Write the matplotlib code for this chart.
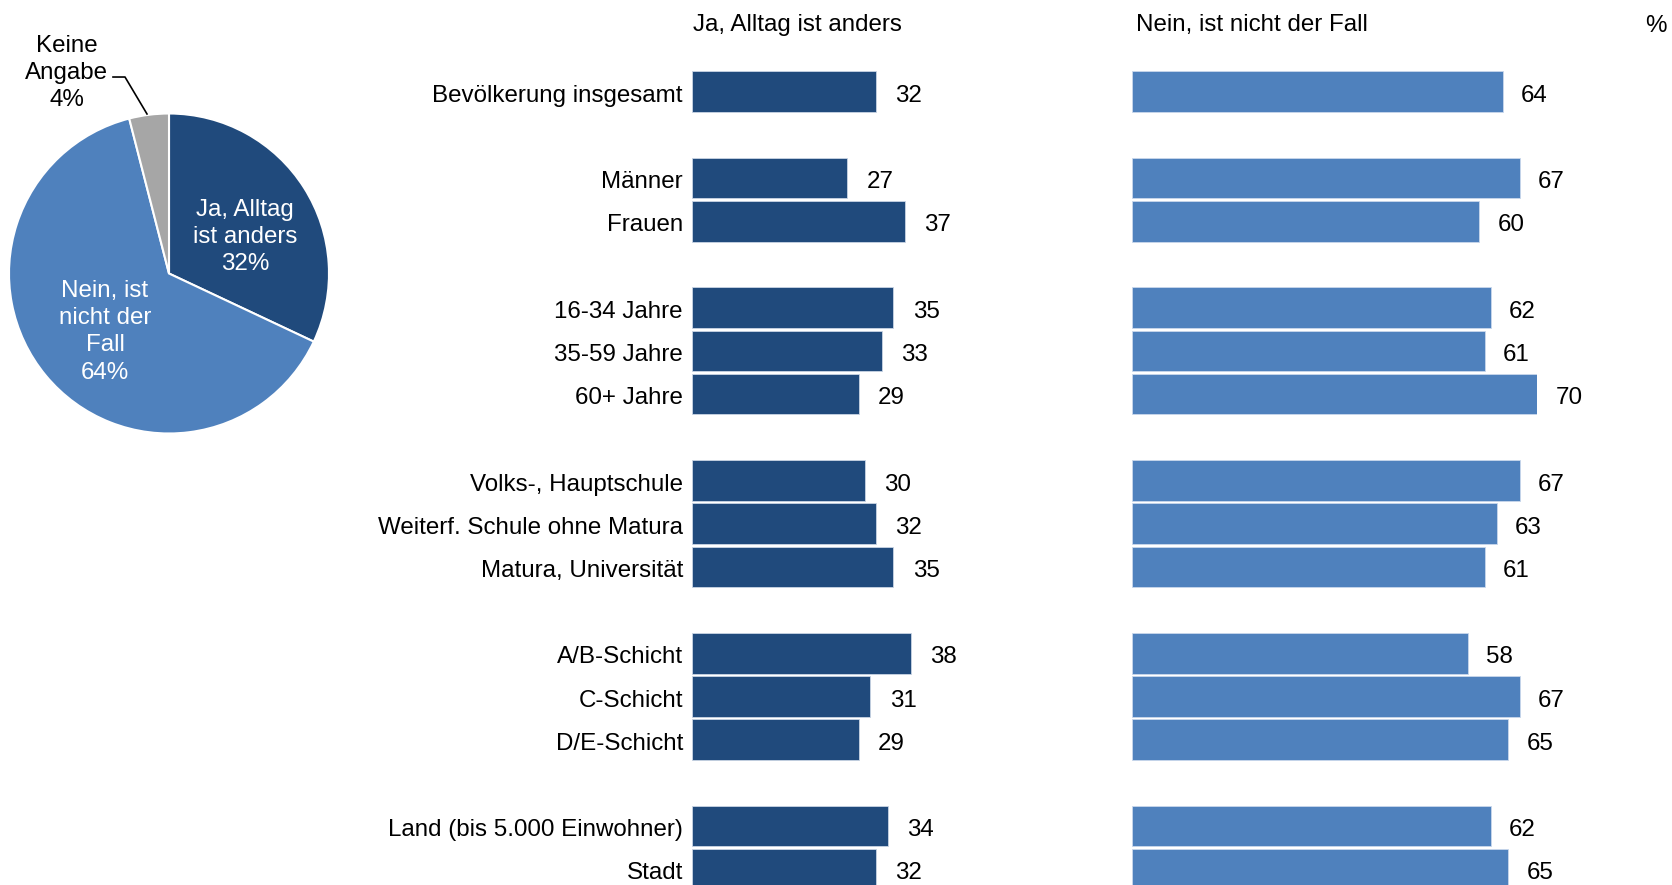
import matplotlib
matplotlib.use("Agg")
import matplotlib.pyplot as plt
import numpy as np

plt.rcParams['font.family'] = ['Liberation Sans', 'DejaVu Sans']

# Gesamtergebnis fuer das Kreisdiagramm
pie_labels = ["Ja, Alltag\nist anders", "Nein, ist\nnicht der\nFall", "Keine\nAngabe"]
pie_values = [32, 64, 4]

# Untergruppen, Blockgroessen fuer die Leerzeilen dazwischen
categories = ["Bevölkerung insgesamt",
              "Männer", "Frauen",
              "16-34 Jahre", "35-59 Jahre", "60+ Jahre",
              "Volks-, Hauptschule", "Weiterf. Schule ohne Matura", "Matura, Universität",
              "A/B-Schicht", "C-Schicht", "D/E-Schicht",
              "Land (bis 5.000 Einwohner)", "Stadt"]
group_sizes = [1, 2, 3, 3, 3, 2]
ja = [32, 27, 37, 35, 33, 29, 30, 32, 35, 38, 31, 29, 34, 32]
nein = [64, 67, 60, 62, 61, 70, 67, 63, 61, 58, 67, 65, 62, 65]

DARK = "#204A7C"
LIGHT = "#4F81BD"
GREY = "#A6A6A6"
FS = 17.4

W, H = 1672, 885
fig = plt.figure(figsize=(W / 100, H / 100), dpi=100)

# Zeilenpositionen mit einer Leerzeile zwischen den Bloecken
rows = []
r = 0
for g in group_sizes:
    rows.extend(range(r, r + g))
    r += g + 1
rows = np.array(rows)

row0, pitch = 91.7, 43.2
ylim = ((H - row0) / pitch, -row0 / pitch)


def bar_axes(x0, px_per_unit):
    ax = fig.add_axes([x0 / W, 0, 70 * px_per_unit / W, 1])
    ax.set_xlim(0, 70)
    ax.set_ylim(*ylim)
    ax.axis("off")
    return ax


ax1 = bar_axes(692, 5.75)
ax2 = bar_axes(1132, 5.79)

ax1.barh(rows, ja, height=0.94, color=DARK, edgecolor="#c9d4e4", linewidth=0.6)
ax2.barh(rows, nein, height=0.94, color=LIGHT, edgecolor="#c9d8ec", linewidth=0.6)

for y, lab, a, b in zip(rows, categories, ja, nein):
    ax1.annotate(lab, (0, y), xytext=(-6.5, -3), textcoords="offset points",
                 ha="right", va="center", fontsize=FS)
    ax1.annotate(str(a), (a, y), xytext=(14, -3), textcoords="offset points",
                 ha="left", va="center", fontsize=FS)
    ax2.annotate(str(b), (b, y), xytext=(13, -3), textcoords="offset points",
                 ha="left", va="center", fontsize=FS)

fig.text(693 / W, 1 - 25.5 / H, "Ja, Alltag ist anders", ha="left", va="center", fontsize=FS)
fig.text(1136 / W, 1 - 25.5 / H, "Nein, ist nicht der Fall", ha="left", va="center", fontsize=FS)
fig.text(1667 / W, 1 - 25.5 / H, "%", ha="right", va="center", fontsize=FS)

# Kreisdiagramm links oben
cx, cy, rad = 169, 273.5, 160
axp = fig.add_axes([(cx - rad) / W, 1 - (cy + rad) / H, 2 * rad / W, 2 * rad / H])
axp.pie(pie_values, colors=[DARK, LIGHT, GREY], startangle=90, counterclock=False,
        radius=1, wedgeprops=dict(edgecolor="white", linewidth=1.5))
axp.set_xlim(-1, 1)
axp.set_ylim(-1, 1)
axp.set_aspect("auto")
axp.axis("off")

axp.text(0.475, 0.23, f"{pie_labels[0]}\n{pie_values[0]}%", ha="center", va="center",
         color="white", fontsize=FS, linespacing=1.3)
axp.text(-0.40, -0.365, f"{pie_labels[1]}\n{pie_values[1]}%", ha="center", va="center",
         color="white", fontsize=FS, linespacing=1.3)
axp.text(-0.64, 1.255, f"{pie_labels[2]}\n{pie_values[2]}%", ha="center", va="center",
         color="black", fontsize=FS, linespacing=1.3)
axp.plot([-0.35, -0.275, -0.1375], [1.228, 1.228, 0.997], color="black", lw=1.2,
         clip_on=False)

fig.savefig("out.png", dpi=100)
